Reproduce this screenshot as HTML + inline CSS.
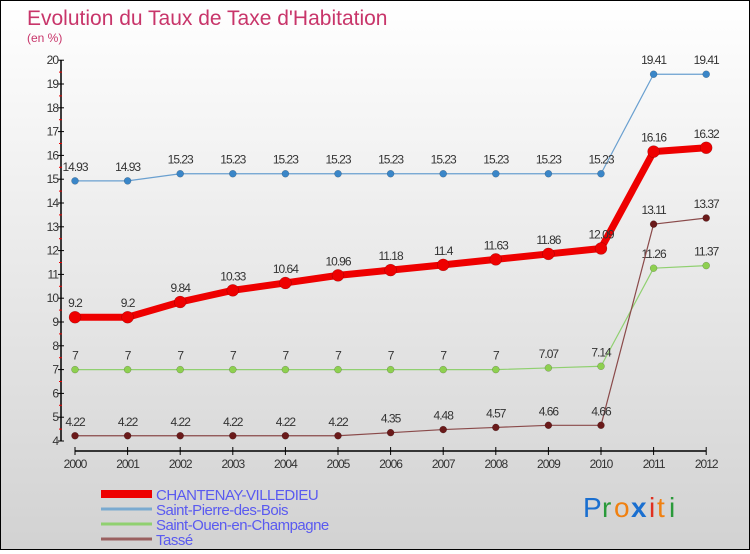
<!DOCTYPE html>
<html><head><meta charset="utf-8"><style>
html,body{margin:0;padding:0;}
body{width:750px;height:550px;overflow:hidden;font-family:"Liberation Sans",sans-serif;}
#wrap{position:relative;width:748px;height:548px;border:1px solid #000;background:linear-gradient(#ffffff,#d2d2d2);}
</style></head><body>
<div id="wrap">
<svg id="chart" width="748" height="548" xmlns="http://www.w3.org/2000/svg">
<text x="26" y="24" font-size="21" fill="#c8356a">Evolution du Taux de Taxe d'Habitation</text>
<text x="26" y="41" font-size="12" fill="#c8356a">(en %)</text>
<g id="axes"></g><g id="series"></g><g id="legend"></g>
<g font-size="28" font-family="'Liberation Sans',sans-serif">
<text x="582" y="516" fill="#1a6fd0">P</text><text x="601" y="516" fill="#2a9a3a">r</text><text x="613" y="516" fill="#f08010">o</text><text x="630" y="516" fill="#1a6fd0" font-weight="bold">x</text><text x="648" y="516" fill="#e03020">i</text><text x="656" y="516" fill="#f08010">t</text><text x="668" y="516" fill="#2a9a3a">i</text>
</g>
</svg></div>
<script>
const years=[2000,2001,2002,2003,2004,2005,2006,2007,2008,2009,2010,2011,2012];
const chantenay=[9.2,9.2,9.84,10.33,10.64,10.96,11.18,11.4,11.63,11.86,12.09,16.16,16.32];
const saintPierre=[14.93,14.93,15.23,15.23,15.23,15.23,15.23,15.23,15.23,15.23,15.23,19.41,19.41];
const saintOuen=[7,7,7,7,7,7,7,7,7,7.07,7.14,11.26,11.37];
const tasse=[4.22,4.22,4.22,4.22,4.22,4.22,4.35,4.48,4.57,4.66,4.66,13.11,13.37];
const yTicks=[4,5,6,7,8,9,10,11,12,13,14,15,16,17,18,19,20];
const seriesNames=["CHANTENAY-VILLEDIEU","Saint-Pierre-des-Bois","Saint-Ouen-en-Champagne","Tassé"];
const NS="http://www.w3.org/2000/svg";
const X=i=>74+i*52.6;
const Y=v=>440-(v-4)*23.8;
function mk(tag,attrs,parent,text){const e=document.createElementNS(NS,tag);for(const k in attrs)e.setAttribute(k,attrs[k]);if(text!==undefined)e.textContent=text;parent.appendChild(e);return e;}
const axes=document.getElementById('axes');
let e=mk('line',{x1:60,y1:Y(20),x2:60,y2:Y(4),stroke:'#000','stroke-width':1.5},axes);


yTicks.forEach(t=>{
 mk('line',{x1:57,y1:Y(t),x2:63,y2:Y(t),stroke:'#000'},axes);
 if(t<20)mk('line',{x1:58,y1:Y(t+0.5),x2:61,y2:Y(t+0.5),stroke:'#e00'},axes);
 const l=mk('text',{x:57,y:Y(t)+4,'font-size':12,fill:'#333','text-anchor':'end','letter-spacing':'-1'},axes,String(t));
 
 
});
e=mk('line',{x1:X(0),y1:450,x2:X(12),y2:450,stroke:'#000','stroke-width':1.5},axes);


years.forEach((yr,i)=>{
 mk('line',{x1:X(i),y1:446,x2:X(i),y2:454,stroke:'#000'},axes);
 const l=mk('text',{x:X(i),y:467,'font-size':12,fill:'#333','text-anchor':'middle','letter-spacing':'-1'},axes,String(yr));
 
 
});
const sg=document.getElementById('series');
function draw(data,color,w,r,dotColor,name){
 const g=mk('g',{},sg);
 
 
 let d='';
 data.forEach((v,i)=>{d+=(i?'L':'M')+X(i)+','+Y(v);});
 mk('path',{d:d,fill:'none',stroke:color,'stroke-width':w,'stroke-linejoin':'round'},g);
 data.forEach((v,i)=>{
  const c=mk('circle',{cx:X(i),cy:Y(v),r:r,fill:dotColor,stroke:'rgba(0,0,0,0.3)','stroke-width':0.5},g);
  
  
  const t=mk('text',{x:X(i),y:Y(v)-10,'font-size':12,fill:'#333','text-anchor':'middle','letter-spacing':'-1'},g,String(v));
  
  
 });
}
draw(saintPierre,'#6aa0d0',1.2,3.5,'#3a86c8','saint-pierre-series');
draw(saintOuen,'#90d070',1.2,3.5,'#8ed050','saint-ouen-series');
draw(tasse,'#8a4a4a',1.2,3.5,'#6a1a1a','tasse-series');
draw(chantenay,'#ee0000',7,6,'#ee0000','chantenay-series');
const lg=document.getElementById('legend');
const lc=['#ee0000','#7aaad0','#90d070','#9a6060'],lw=[8,3,3,3],ly=[493,508,523,538];
seriesNames.forEach((n,i)=>{
 const g=mk('g',{},lg);
 
 
 mk('line',{x1:100,y1:ly[i],x2:151,y2:ly[i],stroke:lc[i],'stroke-width':lw[i]},g);
 mk('text',{x:155,y:ly[i]+6,'font-size':15,fill:'#5a5af0','letter-spacing':'-0.5'},g,n);
});
</script>
</body></html>
